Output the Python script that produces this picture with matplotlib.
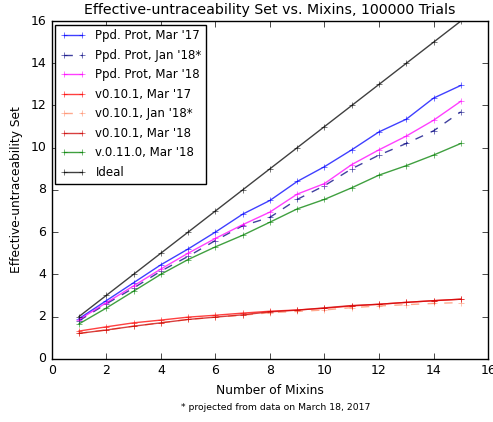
import matplotlib
matplotlib.use("Agg")
import matplotlib.pyplot as plt

plt.style.use("classic")

mixins = list(range(1, 16))

ppd_mar17 = [1.9, 2.75, 3.6, 4.45, 5.2, 6.0, 6.85, 7.5, 8.4, 9.1, 9.9, 10.75, 11.35, 12.35, 12.95]
ppd_jan18 = [1.8, 2.6, 3.35, 4.15, 4.85, 5.6, 6.3, 6.7, 7.55, 8.2, 9.0, 9.65, 10.2, 10.8, 11.7]
ppd_mar18 = [1.85, 2.65, 3.45, 4.25, 5.0, 5.7, 6.35, 6.95, 7.8, 8.3, 9.2, 9.9, 10.55, 11.3, 12.2]
v0101_mar17 = [1.31, 1.51, 1.70, 1.83, 1.97, 2.06, 2.16, 2.25, 2.31, 2.39, 2.5, 2.58, 2.67, 2.75, 2.82]
v0101_jan18 = [1.2, 1.36, 1.54, 1.7, 1.86, 1.97, 2.06, 2.18, 2.24, 2.31, 2.42, 2.5, 2.56, 2.62, 2.66]
v0101_mar18 = [1.2, 1.36, 1.54, 1.70, 1.86, 1.97, 2.08, 2.22, 2.30, 2.41, 2.52, 2.58, 2.67, 2.75, 2.82]
v0110_mar18 = [1.65, 2.4, 3.2, 4.0, 4.7, 5.3, 5.85, 6.47, 7.1, 7.55, 8.1, 8.7, 9.15, 9.65, 10.2]
ideal = [2, 3, 4, 5, 6, 7, 8, 9, 10, 11, 12, 13, 14, 15, 16]

series = [
    ("Ppd. Prot, Mar '17", ppd_mar17, "#0000ff", "-"),
    ("Ppd. Prot, Jan '18*", ppd_jan18, "#000080", "--"),
    ("Ppd. Prot, Mar '18", ppd_mar18, "#ff00ff", "-"),
    ("v0.10.1, Mar '17", v0101_mar17, "#ff0000", "-"),
    ("v0.10.1, Jan '18*", v0101_jan18, "#ff8c69", "--"),
    ("v0.10.1, Mar '18", v0101_mar18, "#cc0000", "-"),
    ("v.0.11.0, Mar '18", v0110_mar18, "#008000", "-"),
    ("Ideal", ideal, "#000000", "-"),
]

fig = plt.figure(figsize=(4.93, 4.22), dpi=100, facecolor="white")
ax = fig.add_axes([0.105, 0.15, 0.885, 0.80])

for label, vals, color, ls in series:
    ax.plot(mixins, vals, color=color, linestyle=ls, marker="+",
            markersize=5, linewidth=1, alpha=0.75, label=label)

ax.set_xlim(0, 16)
ax.set_ylim(0, 16)
ax.set_xticks(range(0, 17, 2))
ax.set_yticks(range(0, 17, 2))
ax.tick_params(labelsize=9)
ax.set_xlabel("Number of Mixins", fontsize=8.8)
ax.set_ylabel("Effective-untraceability Set", fontsize=8.8)
ax.set_title("Effective-untraceability Set vs. Mixins, 100000 Trials", fontsize=10.2)

leg = ax.legend(loc="upper left", fontsize=8.5, numpoints=2, handlelength=2.2,
                borderaxespad=0.3, labelspacing=0.55)
leg.get_frame().set_edgecolor("black")

fig.text(0.56, 0.028, "* projected from data on March 18, 2017",
         ha="center", fontsize=6.7)

fig.savefig("out.png", dpi=100, facecolor="white")
